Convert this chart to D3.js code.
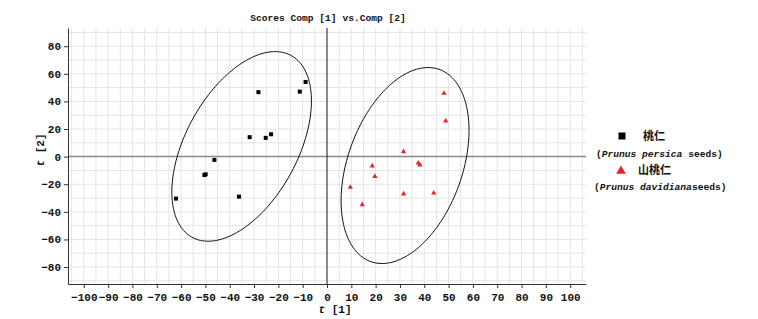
<!DOCTYPE html>
<html>
<head>
  <meta charset='utf-8'>
  <script src="https://cdn.jsdelivr.net/npm/d3@7"></script>
  <style type="text/css">
    body { margin: 0; background: #fff; }
    text { font-family: "Liberation Mono", "DejaVu Sans Mono", monospace; font-weight: bold; fill: #111; }
    .cjk { font-family: "Noto Sans CJK SC", sans-serif; font-weight: bold; }
  </style>
</head>
<body>
  <script>
    // 桃仁 scores
    let persicaT1 = [-8.8, -11.2, -28.2, -31.8, -25.2, -23.0, -46.3, -50.4, -49.9, -62.1, -36.2]
    let persicaT2 = [54.1, 47.1, 46.7, 14.1, 13.6, 16.2, -2.4, -13.3, -12.8, -30.4, -29.0]
    // 山桃仁 scores
    let davidT1 = [48.1, 48.8, 31.5, 18.6, 19.7, 37.5, 38.2, 9.6, 14.5, 31.5, 43.9]
    let davidT2 = [45.9, 25.9, 3.6, -6.7, -14.3, -4.6, -6.0, -22.2, -34.8, -27.0, -26.3]
    // ellipses: centre x, centre y, half width, half height, correlation
    let ellLeft = [-35.1, 7.4, 28.7, 68.7, 0.48]
    let ellRight = [32.1, -6.45, 26.3, 71.0, 0.36]
    let xTicks = d3.range(-100, 101, 10)
    let yTicks = [-80, -60, -40, -20, 0, 20, 40, 60, 80]

    let w = 758, h = 319
    let pLeft = 68, pRight = 586, pTop = 28, pBottom = 284

    let svg = d3.select('body').append('svg').attr('width', w).attr('height', h)

    let x = d3.scaleLinear().domain([-106.5, 106.5]).range([pLeft, pRight])
    let y = d3.scaleLinear().domain([-92.3, 93.2]).range([pBottom, pTop])

    // grid
    svg.append('g').selectAll('line')
      .data(d3.range(-105, 106, 5))
      .join('line')
      .attr('x1', d => x(d)).attr('x2', d => x(d))
      .attr('y1', pTop).attr('y2', pBottom)
      .attr('stroke', '#e4e4e4').attr('stroke-width', 1)
    svg.append('g').selectAll('line')
      .data(d3.range(-90, 91, 10))
      .join('line')
      .attr('x1', pLeft).attr('x2', pRight)
      .attr('y1', d => y(d)).attr('y2', d => y(d))
      .attr('stroke', '#e4e4e4').attr('stroke-width', 1)

    // zero lines
    svg.append('line')
      .attr('x1', pLeft).attr('x2', pRight)
      .attr('y1', y(0)).attr('y2', y(0))
      .attr('stroke', '#8a8a8a').attr('stroke-width', 1.5)
    svg.append('line')
      .attr('x1', x(0)).attr('x2', x(0))
      .attr('y1', pTop).attr('y2', pBottom)
      .attr('stroke', '#222').attr('stroke-width', 1)

    // axes
    let xAxis = d3.axisBottom(x).tickValues(xTicks).tickSize(4).tickSizeOuter(0)
    let gx = svg.append('g')
      .attr('transform', 'translate(0,' + pBottom + ')')
      .call(xAxis)
    let yAxis = d3.axisLeft(y).tickValues(yTicks).tickSize(4).tickSizeOuter(0)
    let gy = svg.append('g')
      .attr('transform', 'translate(' + pLeft + ',0)')
      .call(yAxis)
    gx.attr('font-family', null).attr('font-size', 11)
    gy.attr('font-family', null).attr('font-size', 11)
    gx.selectAll('text').attr('dy', '0.9em')
    svg.selectAll('.domain').attr('stroke', '#333')
    svg.selectAll('.tick line').attr('stroke', '#333')

    // ellipses
    function ellipse(p) {
      return d3.range(0, 2 * Math.PI + 0.01, Math.PI / 90).map(t => [
        p[0] + p[2] * Math.cos(t),
        p[1] + p[3] * (p[4] * Math.cos(t) + Math.sqrt(1 - p[4] * p[4]) * Math.sin(t))
      ])
    }
    let line = d3.line().x(d => x(d[0])).y(d => y(d[1]))
    svg.selectAll('.ell')
      .data([ellLeft, ellRight])
      .join('path')
      .attr('class', 'ell')
      .attr('d', d => line(ellipse(d)))
      .attr('fill', 'none')
      .attr('stroke', '#111')
      .attr('stroke-width', 1)

    // points
    svg.append('g').selectAll('path')
      .data(persicaT1)
      .join('path')
      .attr('d', d3.symbol(d3.symbolSquare, 16))
      .attr('transform', (d, i) => 'translate(' + x(d) + ',' + y(persicaT2[i]) + ')')
      .attr('fill', '#000')
    svg.append('g').selectAll('path')
      .data(davidT1)
      .join('path')
      .attr('d', d3.symbol(d3.symbolTriangle, 12))
      .attr('transform', (d, i) => 'translate(' + x(d) + ',' + y(davidT2[i]) + ')')
      .attr('fill', '#e8252d')

    // title and labels
    svg.append('text')
      .attr('x', 328).attr('y', 21)
      .attr('text-anchor', 'middle')
      .attr('font-size', 9.6)
      .text('Scores Comp [1] vs.Comp [2]')

    let xl = svg.append('text')
      .attr('x', 335).attr('y', 313)
      .attr('text-anchor', 'middle')
      .attr('font-size', 11)
    xl.append('tspan').attr('font-style', 'italic').text('t')
    xl.append('tspan').text(' [1]')

    let yl = svg.append('text')
      .attr('transform', 'translate(44,150) rotate(-90)')
      .attr('text-anchor', 'middle')
      .attr('font-size', 11)
    yl.append('tspan').attr('font-style', 'italic').text('t')
    yl.append('tspan').text(' [2]')

    // legend
    let lg = svg.append('g')
    lg.append('path')
      .attr('d', d3.symbol(d3.symbolSquare, 49))
      .attr('transform', 'translate(622,136)')
      .attr('fill', '#000')
    lg.append('text').attr('class', 'cjk')
      .attr('x', 643).attr('y', 140).attr('font-size', 11)
      .text('桃仁')
    let t1 = lg.append('text').attr('x', 596).attr('y', 157).attr('font-size', 9.6)
    t1.append('tspan').text('(')
    t1.append('tspan').attr('font-style', 'italic').text('Prunus persica')
    t1.append('tspan').text(' seeds)')

    lg.append('path')
      .attr('d', d3.symbol(d3.symbolTriangle, 40))
      .attr('transform', 'translate(621,171)')
      .attr('fill', '#e8252d')
    lg.append('text').attr('class', 'cjk')
      .attr('x', 638).attr('y', 174).attr('font-size', 11)
      .text('山桃仁')
    let t2 = lg.append('text').attr('x', 594).attr('y', 190).attr('font-size', 9.6)
    t2.append('tspan').text('(')
    t2.append('tspan').attr('font-style', 'italic').text('Prunus davidiana')
    t2.append('tspan').text('seeds)')
  </script>
</body>
</html>
